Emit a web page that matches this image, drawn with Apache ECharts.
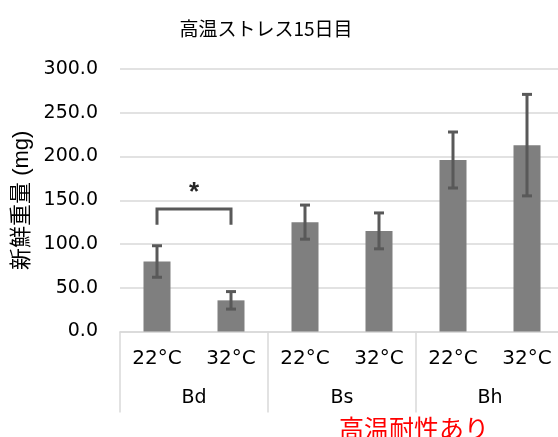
<!DOCTYPE html>
<html>
<head>
<meta charset="utf-8">
<style>
  html, body { margin: 0; padding: 0; background: #fff; overflow: hidden; width: 558px; height: 437px; }
  #chart { width: 566px; height: 437px; }
</style>
<script src="https://cdn.jsdelivr.net/npm/echarts@6/dist/echarts.min.js"></script>
</head>
<body>
<div id="chart"></div>
<script>
// Fresh weight after 15 days of heat stress, by line and temperature
const temps = ['22°C', '32°C', '22°C', '32°C', '22°C', '32°C'];
const lines = ['Bd', 'Bs', 'Bh'];
const means = [80, 35.6, 125, 115, 196, 213];
const errors = [18, 10, 19.5, 20.5, 32, 58];
const yTicks = [0, 50, 100, 150, 200, 250, 300];
// significance bracket between Bd 22°C and Bd 32°C: [from, to, top, foot]
const bracket = [[0, 1, 140, 122]];
const bracketMark = '*';

const FONT = '"DejaVu Sans", "Liberation Sans", "Noto Sans CJK JP", sans-serif';
const JP = '"Noto Sans CJK JP", "Liberation Sans", sans-serif';

// the plot area runs slightly past the right edge of the window
const chart = echarts.init(document.getElementById('chart'), null, { renderer: 'canvas' });

const errorData = means.map((m, i) => [i, m - errors[i], m + errors[i]]);

chart.setOption({
  animation: false,
  grid: { left: 120, top: 69, width: 444, height: 262.5, containLabel: false },
  graphic: [
    {
      type: 'text', x: 266, y: 29,
      style: { text: '高温ストレス15日目', font: '400 19px ' + JP, fill: '#000',
               align: 'center', verticalAlign: 'middle' }
    },
    {
      type: 'text', x: 414, y: 428,
      style: { text: '高温耐性あり', font: '400 25px ' + JP, fill: '#ff0000',
               align: 'center', verticalAlign: 'middle' }
    }
  ],
  xAxis: [
    {
      type: 'category', data: temps, position: 'bottom',
      axisLine: { show: true, lineStyle: { color: '#d9d9d9', width: 1.5 } },
      axisTick: { show: false },
      axisLabel: { color: '#000', fontSize: 20, fontFamily: FONT, margin: 17, interval: 0 }
    },
    {
      type: 'category', data: lines, position: 'bottom',
      axisLine: { show: false },
      axisTick: { show: true, length: 81, interval: 0, lineStyle: { color: '#d9d9d9', width: 1.5 } },
      axisLabel: { color: '#000', fontSize: 19, fontFamily: FONT, margin: 57 },
      splitLine: { show: false }
    }
  ],
  yAxis: {
    type: 'value', min: yTicks[0], max: yTicks[yTicks.length - 1], interval: 50,
    name: '新鮮重量 (mg)', nameLocation: 'middle', nameGap: 87,
    nameTextStyle: { color: '#000', fontSize: 22, fontFamily: '"Liberation Sans", "Noto Sans CJK JP", sans-serif' },
    axisLine: { show: false }, axisTick: { show: false },
    axisLabel: { color: '#000', fontSize: 19, fontFamily: FONT, margin: 22,
                 formatter: v => v.toFixed(1) },
    splitLine: { lineStyle: { color: '#d9d9d9', width: 1.5 } }
  },
  series: [
    {
      type: 'bar', data: means, barWidth: 27, xAxisIndex: 0,
      itemStyle: { color: '#7f7f7f' }
    },
    {
      type: 'custom', xAxisIndex: 0, data: errorData, z: 5,
      renderItem: (params, api) => {
        const x = api.value(0);
        const lo = api.coord([x, api.value(1)]);
        const hi = api.coord([x, api.value(2)]);
        const cap = 5;
        const style = { stroke: '#595959', lineWidth: 3 };
        return {
          type: 'group',
          children: [
            { type: 'line', shape: { x1: lo[0], y1: lo[1], x2: hi[0], y2: hi[1] }, style },
            { type: 'line', shape: { x1: hi[0] - cap, y1: hi[1], x2: hi[0] + cap, y2: hi[1] }, style },
            { type: 'line', shape: { x1: lo[0] - cap, y1: lo[1], x2: lo[0] + cap, y2: lo[1] }, style }
          ]
        };
      }
    },
    {
      type: 'custom', xAxisIndex: 0, data: bracket, z: 5,
      renderItem: (params, api) => {
        const a = api.coord([api.value(0), api.value(2)]);
        const b = api.coord([api.value(1), api.value(2)]);
        const foot = api.coord([api.value(0), api.value(3)])[1];
        const style = { stroke: '#595959', lineWidth: 3, fill: null };
        return {
          type: 'group',
          children: [
            { type: 'polyline', shape: { points: [[a[0], foot], [a[0], a[1]], [b[0], b[1]], [b[0], foot]] }, style },
            { type: 'text', x: (a[0] + b[0]) / 2, y: a[1] - 3,
              style: { text: bracketMark, font: 'bold 26px "Liberation Sans", sans-serif', fill: '#262626',
                       align: 'center', verticalAlign: 'bottom' } }
          ]
        };
      }
    }
  ]
});
</script>
</body>
</html>
